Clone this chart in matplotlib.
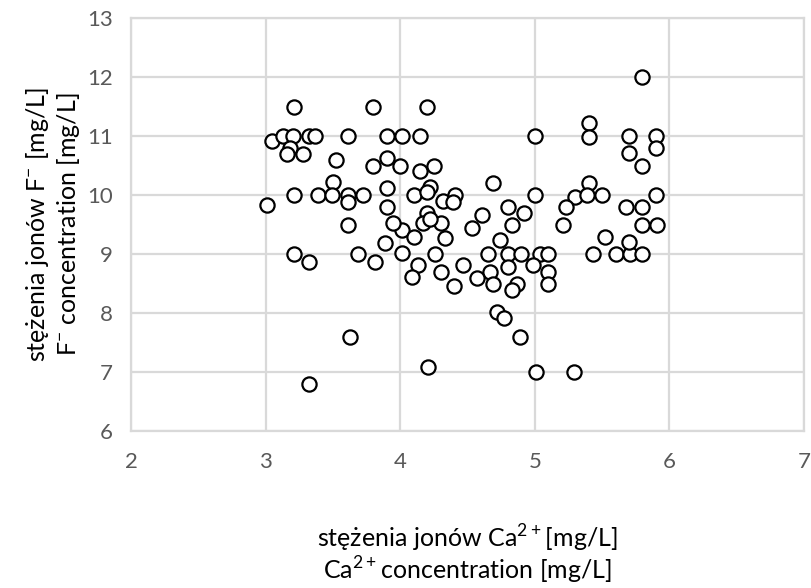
import matplotlib
matplotlib.use("Agg")
import matplotlib.pyplot as plt

# Ca2+ concentration [mg/L] and F- concentration [mg/L]
ca = [3.01, 3.05, 3.13, 3.20, 3.21, 3.32, 3.37, 3.18, 3.16, 3.28,
      3.61, 3.52, 3.50, 3.21, 3.39, 3.49, 3.61, 3.72, 3.61, 3.61,
      3.80, 3.90, 4.01, 4.15, 4.20, 3.80, 3.90, 4.00, 4.15, 4.25,
      4.22, 3.90, 3.90, 4.10, 4.20, 4.32, 4.01, 3.95, 4.17, 4.30,
      3.21, 3.32, 3.69, 3.81, 3.89, 4.01, 4.10, 4.13, 4.09, 4.26,
      4.30, 4.40, 3.63, 4.21, 3.32, 4.69, 4.41, 4.39, 5.00, 5.30,
      5.40, 5.50, 5.23, 5.21, 5.68, 4.33, 4.61, 4.53, 4.80, 4.92,
      4.83, 4.74, 4.65, 4.80, 4.90, 5.04, 5.10, 5.43, 5.60, 5.71,
      5.80, 4.47, 4.67, 4.80, 4.99, 5.10, 4.57, 4.69, 4.87, 4.83,
      5.10, 4.72, 4.77, 4.89, 5.01, 5.29, 5.80, 5.40, 5.40, 5.00,
      5.70, 5.90, 5.70, 5.90, 5.80, 5.39, 5.90, 5.80, 5.80, 5.91,
      5.52, 5.70, 4.22, 4.20]
fl = [9.83, 10.92, 11.00, 11.00, 11.50, 11.00, 11.00, 10.80, 10.70, 10.70,
      11.00, 10.60, 10.22, 10.00, 10.00, 10.00, 10.00, 10.00, 9.88, 9.49,
      11.50, 11.00, 11.00, 11.00, 11.50, 10.50, 10.62, 10.50, 10.40, 10.50,
      10.13, 10.12, 9.80, 10.00, 9.70, 9.90, 9.40, 9.52, 9.52, 9.52,
      9.00, 8.87, 9.00, 8.87, 9.18, 9.02, 9.29, 8.81, 8.61, 9.00,
      8.70, 8.45, 7.59, 7.08, 6.80, 10.20, 10.00, 9.88, 10.00, 9.97,
      10.20, 10.00, 9.80, 9.50, 9.80, 9.27, 9.66, 9.44, 9.80, 9.69,
      9.49, 9.24, 9.00, 9.00, 9.00, 9.00, 9.00, 9.00, 9.00, 9.00,
      9.00, 8.81, 8.70, 8.78, 8.81, 8.70, 8.59, 8.50, 8.50, 8.39,
      8.50, 8.02, 7.91, 7.59, 7.00, 7.00, 12.00, 11.22, 10.98, 11.00,
      11.00, 11.00, 10.71, 10.80, 10.49, 10.00, 10.00, 9.80, 9.50, 9.50,
      9.29, 9.20, 9.60, 10.05]

x_ticks = [2, 3, 4, 5, 6, 7]
y_ticks = [6, 7, 8, 9, 10, 11, 12, 13]

plt.rcParams['font.family'] = ['Lato', 'DejaVu Sans']
plt.rcParams['mathtext.fontset'] = 'custom'
plt.rcParams['mathtext.rm'] = 'Lato'

fig = plt.figure(figsize=(8.11, 5.88), dpi=100)
ax = fig.add_axes([131 / 811, 1 - 431 / 588, 673 / 811, 413 / 588])

ax.scatter(ca, fl, s=105, facecolor='white', edgecolor='black',
           linewidth=1.6, zorder=3)

ax.set_xlim(2, 7)
ax.set_ylim(6, 13)
ax.set_xticks(x_ticks)
ax.set_yticks(y_ticks)
ax.grid(True, color='#d9d9d9', linewidth=1.6, zorder=0)
for side in ax.spines.values():
    side.set_color('#d9d9d9')
    side.set_linewidth(1.6)
ax.tick_params(length=0, labelsize=16, colors='#595959')
ax.tick_params(axis='x', pad=15)
ax.tick_params(axis='y', pad=13)

ax.set_xlabel('stężenia jonów Ca$^{\\mathregular{2+}}$[mg/L]\n'
              'Ca$^{\\mathregular{2+}}$concentration [mg/L]',
              fontsize=18, labelpad=37, linespacing=1.0)
ax.set_ylabel('stężenia jonów F$^{\\mathregular{-}}$ [mg/L]\n'
              'F$^{\\mathregular{-}}$ concentration [mg/L]',
              fontsize=18, labelpad=4, linespacing=1.15)

fig.savefig('out.png', dpi=100)
